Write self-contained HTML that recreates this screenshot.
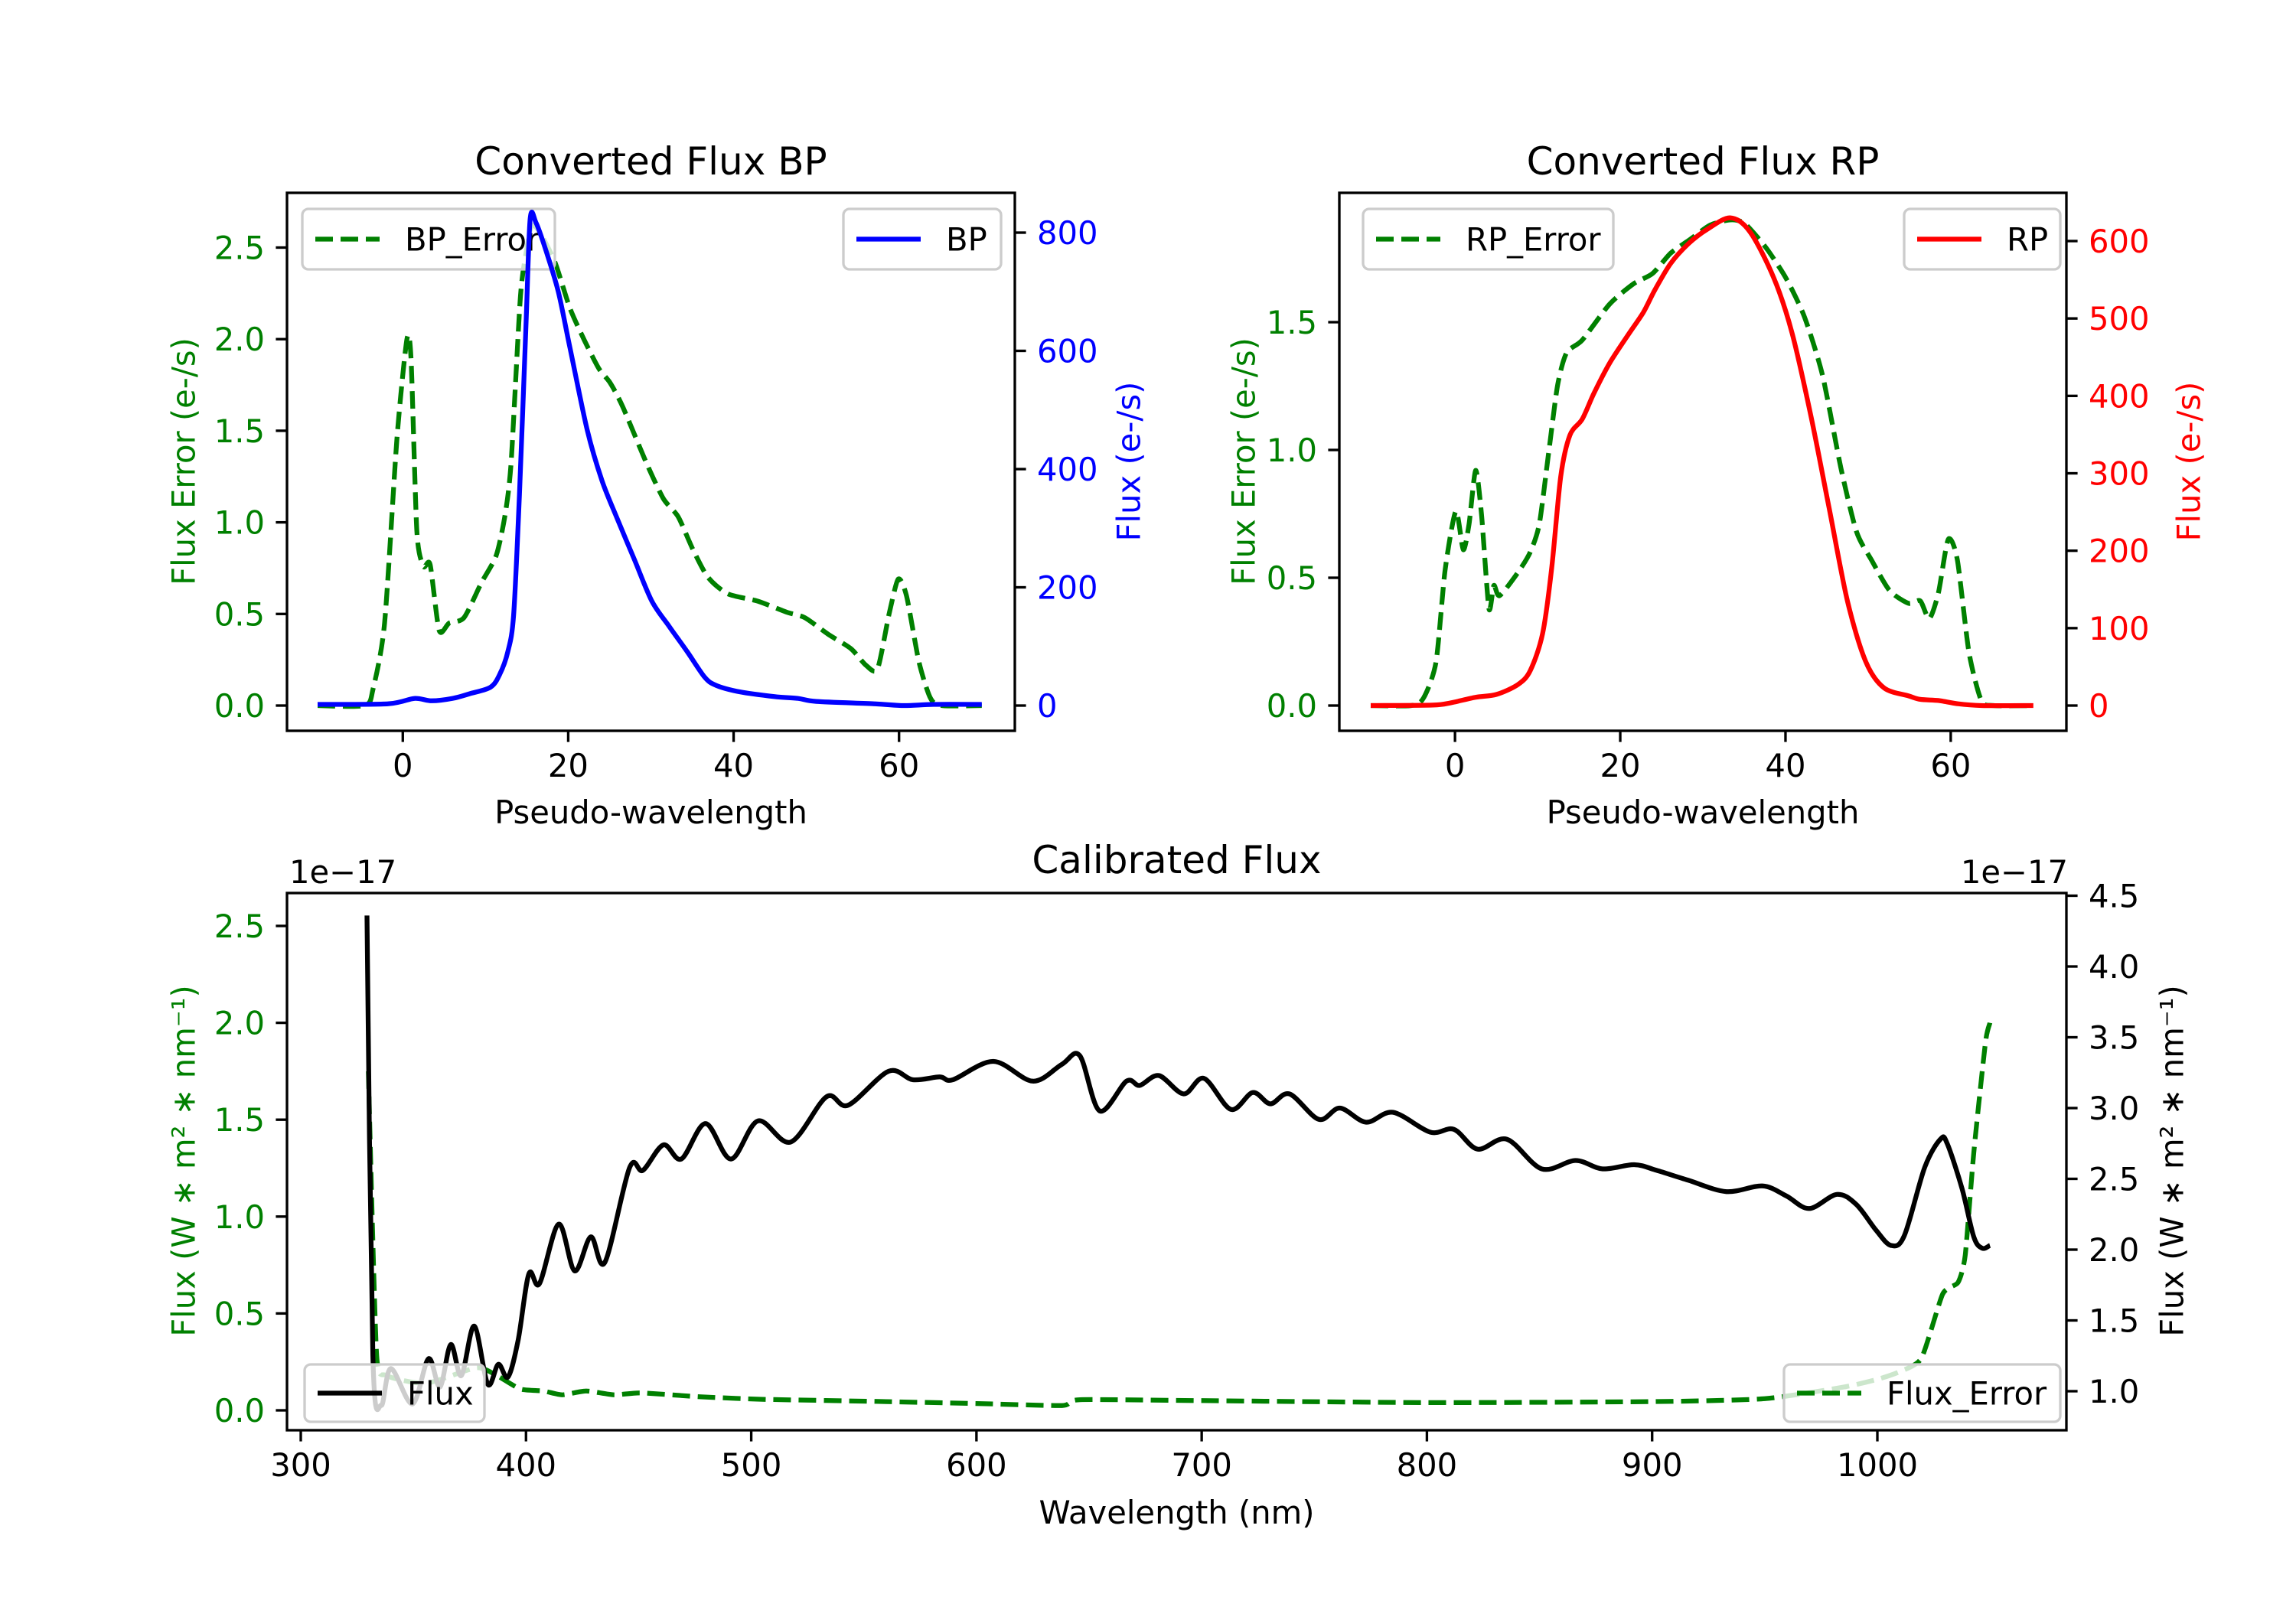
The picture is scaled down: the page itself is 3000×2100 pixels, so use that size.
<!DOCTYPE html>
<html><head><meta charset="utf-8"><title>Flux charts</title>
<style>
html,body{margin:0;padding:0;background:#fff;}
svg{display:block;font-family:"DejaVu Sans","Liberation Sans",sans-serif;}
</style></head>
<body>
<svg id="fig" xmlns="http://www.w3.org/2000/svg" width="3000" height="2100" viewBox="0 0 3000 2100">
<rect x="0" y="0" width="3000" height="2100" fill="#fff"/>
</svg>
<script>
// ---------- BP data ----------
const bpX = [-10.3,-1.8,1.4,3.5,6,8.1,10.6,11.7,12.7,13.4,14.1,14.9,15.4,16.1,17.3,18.8,20.2,22.3,24.1,25.9,28,30.1,32.2,34.4,36.5,37.9,40.8,45,47.8,50,57,60.6,64.2,70];
const bpFlux = [2,3,12,8,12,20,31,52,91,153,356,645,823,817,770,700,606,466,380,317,247,177,134,91,48,34,23,15,12,7,3,0,2,2];
const bpErrX = [-10.3,-4.6,-3.6,-2.2,-0.7,0.5,1.0,1.7,2.5,3.3,4.4,5.6,7.4,9.5,11.3,12.4,13.1,14.2,14.9,15.6,16.6,18.4,20.2,22,23.7,25.1,26.6,29.4,31.5,33.3,35.1,36.9,39.3,42.9,46.4,48.6,51.4,54.2,56,57.4,58.8,59.9,60.9,62.4,63.8,65.2,70];
const bpErr = [0,0,0.09,0.45,1.46,2.0,1.89,0.95,0.76,0.77,0.41,0.45,0.48,0.67,0.82,1.05,1.33,2.22,2.47,2.62,2.58,2.42,2.17,1.99,1.84,1.76,1.63,1.33,1.13,1.03,0.85,0.70,0.61,0.57,0.51,0.48,0.39,0.31,0.22,0.20,0.50,0.69,0.60,0.24,0.04,0,0];
// ---------- RP data ----------
const rpX = [-10.2,-2.7,-0.5,2.5,5,7.6,9.1,10.6,11.7,12.8,13.9,15.4,16.8,18.7,20.9,22.8,24.2,26.1,28.3,30.5,33.3,35.7,38.6,40.8,43.1,45.3,47.5,49.7,51.9,54.9,56.3,58.5,60.8,63.7,70];
const rpFlux = [0,0.6,3.6,10.7,14.3,27,45,93,177,296,349,370,403,442,478,508,537,571,597,615,630,612,552,481,373,254,135,57,23,12.5,8,6.5,2.4,0,0];
const rpErrX = [-10.2,-5.3,-3.8,-2.3,-1.2,0.1,1.0,1.7,2.5,3.2,4.1,4.7,5.4,7.6,9.1,10.2,11.3,12.4,13.5,15.4,18.7,21.6,23.9,26.1,28.3,30.9,33.3,34.9,36.4,37.9,40.1,42.3,44.5,46.7,48.6,50.4,52.6,54.9,56.3,57.4,58.5,59.7,60.8,62.2,63.7,65.2,70];
const rpErr = [0,0,0.03,0.17,0.53,0.76,0.61,0.71,0.92,0.75,0.38,0.47,0.43,0.52,0.60,0.71,0.98,1.25,1.38,1.43,1.57,1.65,1.69,1.77,1.82,1.88,1.90,1.89,1.84,1.78,1.67,1.52,1.29,0.93,0.68,0.57,0.45,0.40,0.41,0.34,0.44,0.65,0.57,0.21,0.02,0,0];
// ---------- Calibrated data ----------
const calX = [329.4,332,335.7,340,349.6,356.7,361.8,366.6,371.3,377,383,387.7,392,396.5,401.3,406,414.5,421.6,428.8,435,446,451.9,461,469,479.7,491,503,517.5,533.4,543,561,571.8,583.7,589.5,607.5,625,638,645.9,654.7,666.6,672.5,681,692,701,713,722.7,730.5,739,752,761.4,773,784.9,801.5,812,822.5,835.5,851,866,878,892,902,916,933,949,959.5,969.7,982,990.6,999.3,1006,1012,1021,1028,1031,1037.6,1042.8,1046.6,1050];
const calFlux = [4.36,1.25,0.90,1.16,0.91,1.23,1.03,1.33,1.11,1.46,1.05,1.19,1.10,1.36,1.83,1.76,2.18,1.85,2.09,1.91,2.58,2.56,2.74,2.64,2.89,2.64,2.91,2.76,3.08,3.02,3.26,3.20,3.22,3.20,3.33,3.19,3.31,3.37,2.98,3.19,3.16,3.23,3.10,3.21,2.99,3.11,3.03,3.10,2.92,3.00,2.90,2.97,2.83,2.85,2.71,2.78,2.57,2.63,2.57,2.60,2.56,2.49,2.41,2.45,2.38,2.29,2.39,2.32,2.14,2.03,2.10,2.58,2.78,2.75,2.43,2.09,2.01,2.03];
const calErrX = [330,333.6,338,355.7,378,387,397.5,407.7,416,426.7,439,451,477,505,560,600,638,646,700,800,900,950,985,1000,1010,1019.6,1029,1035.8,1039,1042.8,1048,1050];
const calErr = [1.75,0.30,0.18,0.14,0.22,0.18,0.11,0.10,0.08,0.10,0.08,0.09,0.07,0.057,0.045,0.035,0.025,0.055,0.05,0.04,0.045,0.06,0.12,0.16,0.20,0.27,0.60,0.66,0.80,1.33,1.9,2.0];
// tick arrays
const bpXTicks = [0,20,40,60];
const bpLTicks = [0,0.5,1.0,1.5,2.0,2.5];
const bpRTicks = [0,200,400,600,800];
const rpLTicks = [0,0.5,1.0,1.5];
const rpRTicks = [0,100,200,300,400,500,600];
const calXTicks = [300,400,500,600,700,800,900,1000];
const calLTicks = [0,0.5,1.0,1.5,2.0,2.5];
const calRTicks = [1.0,1.5,2.0,2.5,3.0,3.5,4.0,4.5];

const NS = "http://www.w3.org/2000/svg";
const fig = document.getElementById('fig');
const FS = 41.7, LW = 6.25, SW = 3.33, TL = 14.6;

function mk(parent, tag, attrs, text) {
  const el = document.createElementNS(NS, tag);
  for (const k in attrs) el.setAttribute(k, attrs[k]);
  if (text !== undefined) el.textContent = text;
  parent.appendChild(el);
  return el;
}
function lin(d0, d1, p0, p1) { return v => p0 + (v - d0) / (d1 - d0) * (p1 - p0); }

function pathD(xs, ys, sx, sy, smooth) {
  const P = xs.map((x, i) => [sx(x), sy(ys[i])]);
  let s = 'M' + P[0][0].toFixed(1) + ' ' + P[0][1].toFixed(1);
  for (let i = 1; i < P.length; i++) {
    if (!smooth) { s += 'L' + P[i][0].toFixed(1) + ' ' + P[i][1].toFixed(1); continue; }
    const p0 = P[Math.max(0, i - 2)], p1 = P[i - 1], p2 = P[i], p3 = P[Math.min(P.length - 1, i + 1)];
    const k = smooth;
    const c1x = p1[0] + (p2[0] - p0[0]) * k, c1y = p1[1] + (p2[1] - p0[1]) * k;
    const c2x = p2[0] - (p3[0] - p1[0]) * k, c2y = p2[1] - (p3[1] - p1[1]) * k;
    s += 'C' + c1x.toFixed(1) + ' ' + c1y.toFixed(1) + ' ' + c2x.toFixed(1) + ' ' + c2y.toFixed(1) + ' ' + p2[0].toFixed(1) + ' ' + p2[1].toFixed(1);
  }
  return s;
}

function drawLine(g, xs, ys, sx, sy, color, dashed, name, smooth) {
  const p = mk(g, 'path', {d: pathD(xs, ys, sx, sy, smooth), fill: 'none', stroke: color, 'stroke-width': LW, 'stroke-linejoin': 'round', 'stroke-dasharray': dashed ? '23 10' : 'none'});
  
  
}

function xTicks(g, ticks, sx, yb, fmt, name) {
  ticks.forEach(t => {
    const x = sx(t);
    const l = mk(g, 'line', {x1: x, x2: x, y1: yb, y2: yb + TL, stroke: '#000', 'stroke-width': SW});
    
    
    const tx = mk(g, 'text', {x: x, y: yb + 60, 'font-size': FS, 'text-anchor': 'middle', fill: '#000'}, fmt(t));
    
    
  });
}
function yTicks(g, ticks, sy, xa, side, color, fmt, name) {
  ticks.forEach(t => {
    const y = sy(t);
    const dir = side === 'left' ? -1 : 1;
    const l = mk(g, 'line', {x1: xa, x2: xa + dir * TL, y1: y, y2: y, stroke: '#000', 'stroke-width': SW});
    
    
    const tx = mk(g, 'text', {x: xa + dir * 29, y: y + 15, 'font-size': FS, 'text-anchor': side === 'left' ? 'end' : 'start', fill: color}, fmt(t));
    
    
  });
}
function vLabel(g, cx, cy, text, color, name) {
  const t = mk(g, 'text', {x: 0, y: 0, transform: `translate(${cx},${cy}) rotate(-90)`, 'font-size': FS, 'text-anchor': 'middle', 'dominant-baseline': 'central', fill: color}, text);
  
  
}
function hText(g, x, y, text, size, anchor, name) {
  const t = mk(g, 'text', {x: x, y: y, 'font-size': size, 'text-anchor': anchor, fill: '#000'}, text);
  
  
}
function frame(g, x0, x1, y0, y1, name) {
  const r = mk(g, 'rect', {x: x0, y: y0, width: x1 - x0, height: y1 - y0, fill: 'none', stroke: '#000', 'stroke-width': SW});
  
  
}
function legend(g, bx0, bx1, by0, by1, color, dashed, label, name) {
  const lg = mk(g, 'g', {});
  
  
  mk(lg, 'rect', {x: bx0, y: by0, width: bx1 - bx0, height: by1 - by0, rx: 8, fill: '#fff', 'fill-opacity': 0.8, stroke: '#cccccc', 'stroke-width': SW});
  const cy = (by0 + by1) / 2;
  mk(lg, 'line', {x1: bx0 + 17, x2: bx0 + 101, y1: cy, y2: cy, stroke: color, 'stroke-width': LW, 'stroke-dasharray': dashed ? '23 10' : 'none'});
  const t = mk(lg, 'text', {x: bx0 + 134, y: cy + 15, 'font-size': FS, fill: '#000'}, label);
  
  
}
const f1 = v => v.toFixed(1);
const f0 = v => String(Math.round(v));

// ================= BP =================
(function () {
  const g = mk(fig, 'g', {});
  
  
  const X0 = 375, X1 = 1326, Y0 = 252, Y1 = 955;
  const sx = lin(-14, 74, X0, X1);
  const syL = lin(0, 2.5, 922, 323.5);
  const syR = lin(0, 800, 922, 304);
  drawLine(g, bpErrX, bpErr, sx, syL, '#008000', true, 'bp-error-line', 0.12);
  legend(g, 395, 725, 273, 352, '#008000', true, 'BP_Error', 'bp-error-legend');
  drawLine(g, bpX, bpFlux, sx, syR, '#0000ff', false, 'bp-flux-line', 0.15);
  legend(g, 1102, 1308, 273, 352, '#0000ff', false, 'BP', 'bp-legend');
  frame(g, X0, X1, Y0, Y1, 'bp-axes-frame');
  xTicks(g, bpXTicks, sx, Y1, f0, 'bp-x');
  yTicks(g, bpLTicks, syL, X0, 'left', '#008000', f1, 'bp-error-y');
  yTicks(g, bpRTicks, syR, X1, 'right', '#0000ff', f0, 'bp-flux-y');
  hText(g, (X0 + X1) / 2, 228, 'Converted Flux BP', 50, 'middle', 'bp-title');
  hText(g, (X0 + X1) / 2, 1076, 'Pseudo-wavelength', FS, 'middle', 'bp-x-axis-title');
  vLabel(g, 240, 603, 'Flux Error (e-/s)', '#008000', 'bp-error-y-axis-title');
  vLabel(g, 1475, 603, 'Flux (e-/s)', '#0000ff', 'bp-flux-y-axis-title');
})();

// ================= RP =================
(function () {
  const g = mk(fig, 'g', {});
  
  
  const X0 = 1750, X1 = 2700, Y0 = 252, Y1 = 955;
  const sx = lin(-14, 74, X0, X1);
  const syL = lin(0, 1.5, 922, 421);
  const syR = lin(0, 600, 922, 315);
  drawLine(g, rpErrX, rpErr, sx, syL, '#008000', true, 'rp-error-line', 0.12);
  legend(g, 1781, 2108, 273, 352, '#008000', true, 'RP_Error', 'rp-error-legend');
  drawLine(g, rpX, rpFlux, sx, syR, '#ff0000', false, 'rp-flux-line', 0.15);
  legend(g, 2488, 2692, 273, 352, '#ff0000', false, 'RP', 'rp-legend');
  frame(g, X0, X1, Y0, Y1, 'rp-axes-frame');
  xTicks(g, bpXTicks, sx, Y1, f0, 'rp-x');
  yTicks(g, rpLTicks, syL, X0, 'left', '#008000', f1, 'rp-error-y');
  yTicks(g, rpRTicks, syR, X1, 'right', '#ff0000', f0, 'rp-flux-y');
  hText(g, (X0 + X1) / 2, 228, 'Converted Flux RP', 50, 'middle', 'rp-title');
  hText(g, (X0 + X1) / 2, 1076, 'Pseudo-wavelength', FS, 'middle', 'rp-x-axis-title');
  vLabel(g, 1625, 603, 'Flux Error (e-/s)', '#008000', 'rp-error-y-axis-title');
  vLabel(g, 2860, 603, 'Flux (e-/s)', '#ff0000', 'rp-flux-y-axis-title');
})();

// ================= Calibrated =================
(function () {
  const g = mk(fig, 'g', {});
  
  
  const X0 = 375, X1 = 2700, Y0 = 1167, Y1 = 1869;
  const sx = lin(300, 1000, 393, 2453);
  const syL = lin(0, 2.5, 1843, 1210);
  const syR = lin(1.0, 2.0, 1818, 1633);
  drawLine(g, calErrX, calErr, sx, syL, '#008000', true, 'calibrated-error-line', 0.1);
  drawLine(g, calX, calFlux, sx, syR, '#000000', false, 'calibrated-flux-line', 0.16);
  legend(g, 398, 633, 1783, 1858, '#000000', false, 'Flux', 'flux-legend');
  legend(g, 2331, 2692, 1783, 1858, '#008000', true, 'Flux_Error', 'flux-error-legend');
  frame(g, X0, X1, Y0, Y1, 'calibrated-axes-frame');
  xTicks(g, calXTicks, sx, Y1, f0, 'calibrated-x');
  yTicks(g, calLTicks, syL, X0, 'left', '#008000', f1, 'calibrated-error-y');
  yTicks(g, calRTicks, syR, X1, 'right', '#000000', f1, 'calibrated-flux-y');
  hText(g, (X0 + X1) / 2, 1141, 'Calibrated Flux', 50, 'middle', 'calibrated-title');
  hText(g, (X0 + X1) / 2, 1991, 'Wavelength (nm)', FS, 'middle', 'calibrated-x-axis-title');
  hText(g, 378, 1154, '1e\u221217', FS, 'start', 'left-offset-text');
  hText(g, 2702, 1154, '1e\u221217', FS, 'end', 'right-offset-text');
  vLabel(g, 240, 1517, 'Flux (W \u2217 m\u00b2 \u2217 nm\u207b\u00b9)', '#008000', 'calibrated-error-y-axis-title');
  vLabel(g, 2838, 1517, 'Flux (W \u2217 m\u00b2 \u2217 nm\u207b\u00b9)', '#000000', 'calibrated-flux-y-axis-title');
})();
</script>
</body></html>
